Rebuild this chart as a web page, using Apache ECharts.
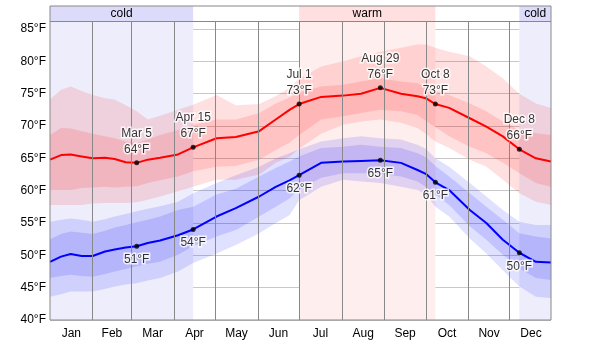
<!DOCTYPE html>
<html><head><meta charset="utf-8">
<script src="https://cdn.jsdelivr.net/npm/echarts@6/dist/echarts.min.js"></script>
<style>html,body{margin:0;padding:0;background:#fff}#c{width:600px;height:344px}</style>
</head><body><div id="c"></div>
<script>
// ---- data (day of year, 0 = Jan 1) ----
const days  = [0, 8, 15, 23, 31, 40, 47, 55, 63, 71, 80, 93, 104, 121, 135, 152, 164, 174, 181, 197, 213, 226, 240, 255, 267, 273, 280, 290, 305, 317, 329, 341, 353, 364];
// average daily high and its percentile bands
const hiAvg = [64.8, 65.5, 65.6, 65.3, 65.0, 65.1, 64.9, 64.4, 64.3, 64.8, 65.1, 65.6, 66.7, 68.1, 68.3, 69.2, 71.0, 72.5, 73.4, 74.5, 74.7, 75.0, 75.9, 75.0, 74.6, 74.3, 73.4, 72.8, 71.2, 69.9, 68.4, 66.4, 65.0, 64.5];
const hi75  = [68.6, 69.7, 69.6, 69.2, 68.8, 68.4, 68.1, 67.6, 67.4, 67.9, 68.6, 69.4, 70.2, 71.0, 71.0, 72.0, 73.5, 74.4, 75.2, 76.1, 76.4, 76.9, 77.4, 76.9, 76.6, 76.0, 75.4, 74.8, 73.5, 72.3, 70.7, 69.4, 68.9, 68.6];
const hi90  = [74.1, 75.6, 76.1, 75.4, 74.8, 74.3, 74.1, 73.2, 72.3, 71.0, 71.6, 72.5, 73.3, 74.8, 73.2, 73.4, 74.6, 75.9, 77.3, 79.2, 80.0, 80.8, 81.5, 82.1, 82.6, 82.6, 82.1, 81.5, 80.8, 79.2, 77.4, 75.0, 73.5, 72.8];
const hi25  = [60.1, 60.1, 60.1, 60.4, 60.5, 60.6, 60.5, 60.6, 60.7, 61.2, 61.6, 62.2, 63.0, 63.7, 63.8, 64.8, 66.3, 67.4, 68.6, 71.0, 71.5, 72.0, 72.5, 72.3, 71.7, 70.8, 69.8, 68.4, 66.8, 65.8, 64.3, 62.7, 61.2, 60.6];
const hi10  = [57.8, 57.8, 57.8, 57.8, 58.0, 58.1, 58.1, 58.1, 58.2, 58.6, 59.1, 59.9, 60.6, 61.7, 61.7, 62.5, 64.3, 65.2, 66.5, 68.8, 70.2, 70.7, 71.0, 70.5, 69.7, 68.8, 67.6, 66.6, 64.8, 63.7, 61.7, 59.6, 58.3, 57.8];
// average daily low and its percentile bands
const loAvg = [49.0, 49.8, 50.2, 49.9, 49.9, 50.6, 50.9, 51.2, 51.4, 51.9, 52.3, 53.1, 54.0, 56.0, 57.3, 59.1, 60.6, 61.6, 62.4, 64.3, 64.5, 64.6, 64.7, 64.3, 63.2, 62.6, 61.3, 60.1, 57.0, 55.0, 52.4, 50.4, 49.0, 48.9];
const lo75  = [52.5, 53.3, 53.7, 53.5, 53.3, 53.8, 54.3, 54.7, 55.1, 55.5, 56.0, 57.0, 57.5, 59.4, 60.3, 62.2, 63.5, 64.5, 65.3, 66.6, 66.8, 67.1, 66.8, 66.6, 65.8, 65.2, 63.8, 62.2, 59.6, 57.5, 55.5, 53.4, 52.9, 52.6];
const lo90  = [55.2, 55.5, 55.7, 55.5, 55.2, 55.6, 56.0, 56.4, 56.8, 57.2, 57.6, 58.3, 59.6, 61.2, 62.4, 63.7, 65.0, 65.8, 66.4, 67.6, 68.1, 68.4, 68.1, 67.9, 67.1, 66.5, 65.0, 63.7, 61.2, 59.1, 57.0, 55.2, 54.7, 54.7];
const lo25  = [46.5, 46.8, 47.0, 46.8, 46.7, 47.1, 47.5, 47.9, 48.3, 48.7, 49.0, 50.1, 51.4, 52.9, 53.9, 56.0, 57.5, 58.8, 60.2, 62.0, 62.7, 62.7, 62.6, 62.2, 61.4, 60.6, 59.4, 57.8, 54.5, 52.4, 50.1, 48.0, 46.5, 46.2];
const lo10  = [43.6, 44.0, 44.4, 44.4, 44.4, 44.8, 45.2, 45.5, 45.7, 46.1, 46.5, 47.5, 48.8, 50.3, 51.6, 53.4, 55.0, 56.2, 58.5, 60.6, 61.7, 61.4, 61.2, 60.6, 60.1, 59.4, 57.5, 56.0, 52.6, 50.3, 47.7, 45.2, 43.6, 43.4];

const monthNames  = ['Jan','Feb','Mar','Apr','May','Jun','Jul','Aug','Sep','Oct','Nov','Dec'];
const monthStarts = [0, 31, 59, 90, 120, 151, 181, 212, 243, 273, 304, 334];
const monthMids   = [15.5, 45, 74.5, 105, 135.5, 166, 196.5, 227.5, 258, 288.5, 319, 349.5];

const coldPeriods = [[0, 104], [341, 364]];
const warmPeriods = [[181, 280]];
const markDays  = [63, 104, 181, 240, 280, 341];
const markNames = ['Mar 5', 'Apr 15', 'Jul 1', 'Aug 29', 'Oct 8', 'Dec 8'];

const yTicks = [40, 45, 50, 55, 60, 65, 70, 75, 80, 85];
const yMin = 40, yMax = 88.56, headerBottom = 86.24, xMax = 364;

// ---- chart ----
const FONT = '"Liberation Sans", Arial, sans-serif';
const chart = echarts.init(document.getElementById('c'), null, { renderer: 'canvas' });

function bandSeries(lower, upper, color, z) {
  return {
    type: 'custom', z: z, silent: true, animation: false,
    data: days.map((d, i) => [d, lower[i], upper[i]]),
    encode: { x: 0, y: [1, 2] },
    renderItem: function (params, api) {
      if (params.dataIndex !== 0) return null;
      const pts = [];
      for (let i = 0; i < days.length; i++) pts.push(api.coord([days[i], upper[i]]));
      for (let i = days.length - 1; i >= 0; i--) pts.push(api.coord([days[i], lower[i]]));
      return { type: 'polygon', shape: { points: pts }, style: { fill: color } };
    }
  };
}

const plotTints = [];
coldPeriods.forEach(p => plotTints.push([{ xAxis: p[0], yAxis: yMin, itemStyle: { color: '#ededfc' } }, { xAxis: p[1], yAxis: headerBottom }]));
warmPeriods.forEach(p => plotTints.push([{ xAxis: p[0], yAxis: yMin, itemStyle: { color: '#ffeeee' } }, { xAxis: p[1], yAxis: headerBottom }]));

const headerAreas = [[{ xAxis: 0, yAxis: headerBottom, itemStyle: { color: '#ffffff' }, label: { show: false } }, { xAxis: xMax, yAxis: yMax }]];
coldPeriods.forEach(p => headerAreas.push([{ xAxis: p[0], yAxis: headerBottom, name: 'cold', itemStyle: { color: '#dcdcfa' } }, { xAxis: p[1], yAxis: yMax }]));
warmPeriods.forEach(p => headerAreas.push([{ xAxis: p[0], yAxis: headerBottom, name: 'warm', itemStyle: { color: '#ffdfdf' } }, { xAxis: p[1], yAxis: yMax }]));

function markerData(arr) {
  return markDays.map((d, i) => ({ value: [d, arr[days.indexOf(d)]], name: markNames[i] }));
}
const labelBase = { show: true, color: '#000', fontSize: 12, fontFamily: FONT, lineHeight: 16,
  textBorderColor: '#fff', textBorderWidth: 3, distance: 3 };

const option = {
  animation: false,
  backgroundColor: '#fff',
  grid: { left: 50, right: 49, top: 6, bottom: 24, show: true, z: 20,
    borderColor: '#888', borderWidth: 1, backgroundColor: 'transparent' },
  xAxis: {
    type: 'value', min: 0, max: xMax, z: 1,
    axisLine: { show: false }, axisTick: { show: false }, splitLine: { show: false },
    axisLabel: { customValues: monthMids, color: '#000', fontSize: 12, fontFamily: FONT, margin: 8,
      formatter: v => { const i = monthMids.indexOf(v); return i >= 0 ? monthNames[i] : ''; } }
  },
  yAxis: {
    type: 'value', min: yMin, max: yMax, interval: 5, z: 1,
    axisLine: { show: false }, axisTick: { show: false },
    splitLine: { show: true, lineStyle: { color: '#c8c8c8', width: 1 } },
    axisLabel: { color: '#000', fontSize: 12, fontFamily: FONT, margin: 4,
      formatter: v => (yTicks.indexOf(Math.round(v * 100) / 100) >= 0 ? v + '°F' : '') }
  },
  series: [
    { type: 'line', data: [], z: 0, silent: true,
      markArea: { silent: true, data: plotTints } },
    bandSeries(hi10, hi90, 'rgba(255,0,0,0.12)', 2),
    bandSeries(hi25, hi75, 'rgba(255,0,0,0.13)', 2),
    bandSeries(lo10, lo90, 'rgba(0,0,255,0.12)', 2),
    bandSeries(lo25, lo75, 'rgba(0,0,255,0.13)', 2),
    { type: 'line', data: [], z: 3, silent: true,
      markLine: { silent: true, symbol: ['none', 'none'], label: { show: false },
        lineStyle: { color: '#888', width: 1, type: 'solid' },
        data: monthStarts.slice(1).map(d => [{ coord: [d, yMin] }, { coord: [d, headerBottom] }]) } },
    { type: 'line', name: 'high', z: 4, data: days.map((d, i) => [d, hiAvg[i]]),
      symbol: 'none', lineStyle: { color: '#ff0000', width: 2 } },
    { type: 'line', name: 'low', z: 4, data: days.map((d, i) => [d, loAvg[i]]),
      symbol: 'none', lineStyle: { color: '#0000ff', width: 2 } },
    { type: 'scatter', z: 5, symbolSize: 5, itemStyle: { color: '#000' }, data: markerData(hiAvg),
      label: Object.assign({}, labelBase, { position: 'top',
        formatter: p => p.name + '\n' + Math.round(p.value[1]) + '°F' }) },
    { type: 'scatter', z: 5, symbolSize: 5, itemStyle: { color: '#000' }, data: markerData(loAvg),
      label: Object.assign({}, labelBase, { position: 'bottom',
        formatter: p => Math.round(p.value[1]) + '°F' }) },
    { type: 'line', data: [], z: 6, silent: true,
      markArea: { silent: true,
        label: { show: true, position: 'inside', color: '#000', fontSize: 12, fontFamily: FONT },
        data: headerAreas },
      markLine: { silent: true, symbol: ['none', 'none'], label: { show: false },
        lineStyle: { color: '#888', width: 1, type: 'solid' },
        data: [[{ coord: [0, headerBottom] }, { coord: [xMax, headerBottom] }]] } }
  ]
};
chart.setOption(option);
</script>
</body></html>
